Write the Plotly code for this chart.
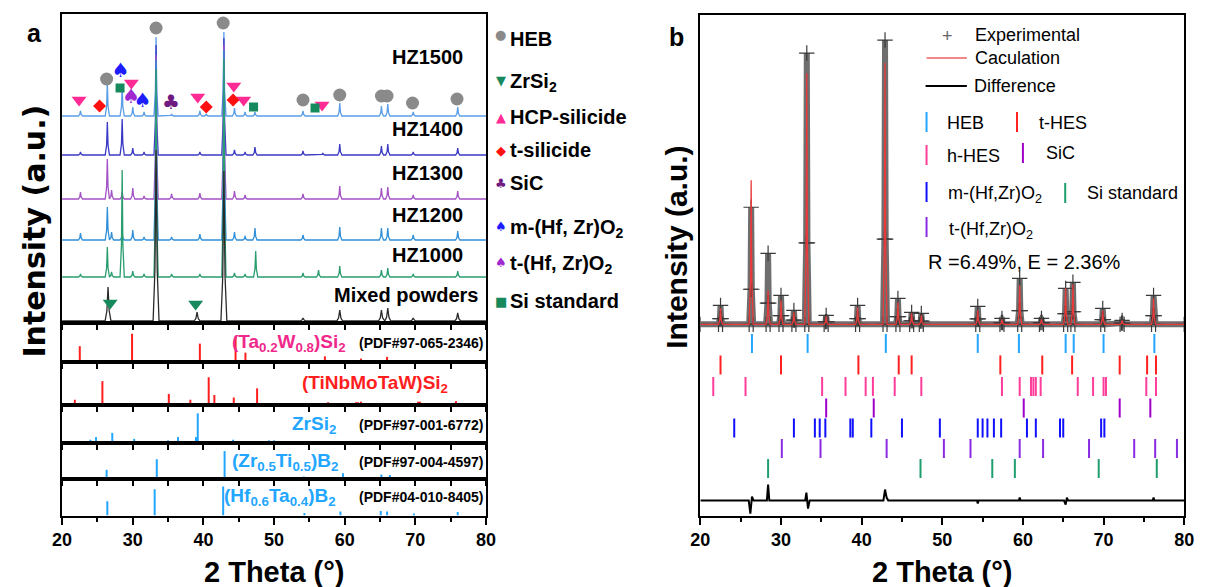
import plotly.graph_objects as go

# ---------------- data ----------------
W, H = 1206, 587
FONT = "Liberation Sans, Arial, sans-serif"
x_ticks = [20, 30, 40, 50, 60, 70, 80]

# Panel a: measured patterns — peak centre (2θ) and peak height above the pattern's own baseline
hz1500_pos = [22.6, 26.4, 28.5, 30.0, 31.6, 33.3, 35.5, 39.5, 40.4, 42.9, 44.4, 45.9, 47.3, 54.1, 59.3, 65.2, 66.1, 69.7, 76.0]
hz1500_h   = [5, 33, 31, 9, 4, 79, 2, 5, 2, 84, 8, 4, 4, 5, 13, 10, 12, 4, 9]
hz1400_pos = [22.6, 26.4, 28.5, 30.0, 31.6, 33.3, 39.5, 42.9, 44.4, 45.9, 47.3, 54.1, 56.9, 59.3, 65.2, 66.1, 69.7, 76.0]
hz1400_h   = [3, 33, 36, 7, 3, 110, 3, 117, 5, 3, 8, 4, 2, 11, 9, 11, 3, 7]
hz1300_pos = [22.6, 26.4, 27.0, 28.5, 30.0, 31.6, 33.3, 35.5, 39.5, 42.9, 44.4, 45.9, 54.1, 59.3, 65.2, 66.1, 69.7, 76.0]
hz1300_h   = [7, 40, 9, 7, 11, 3, 144, 5, 6, 154, 8, 4, 5, 13, 11, 12, 4, 8]
hz1200_pos = [22.6, 26.4, 27.0, 28.5, 30.0, 31.6, 33.3, 35.5, 39.5, 42.9, 44.4, 45.9, 47.3, 54.1, 59.3, 65.2, 66.1, 69.7, 76.0]
hz1200_h   = [7, 33, 8, 7, 10, 3, 180, 3, 6, 190, 8, 4, 12, 5, 13, 12, 12, 5, 9]
hz1000_pos = [22.6, 26.4, 27.0, 28.5, 30.0, 31.6, 33.3, 35.5, 39.5, 42.9, 44.4, 45.9, 47.4, 54.1, 56.3, 59.3, 65.2, 66.1, 69.7, 76.0]
hz1000_h   = [3, 30, 5, 107, 6, 3, 208, 3, 3, 218, 4, 3, 26, 4, 7, 11, 7, 9, 3, 6]
mixed_pos  = [26.5, 33.3, 39.1, 42.9, 54.1, 59.3, 65.2, 66.1, 69.7, 76.0]
mixed_h    = [34, 171, 9, 150, 3, 11, 11, 13, 3, 8]

sample_names   = ["HZ1500", "HZ1400", "HZ1300", "HZ1200", "HZ1000", "Mixed powders"]
sample_offsets = [207, 168, 124, 83, 46, 2]

# phase markers above the patterns (2θ, intensity position)
heb_mark_x   = [26.3, 33.3, 42.8, 54.1, 59.3, 65.2, 66.0, 69.6, 75.9]
heb_mark_y   = [244, 295, 300, 223, 228, 227, 227, 220, 224]
hcp_mark_x   = [22.4, 29.8, 39.2, 44.3, 45.7, 56.8]
hcp_mark_y   = [223, 240, 226, 237, 223, 218]
tsil_mark_x  = [25.3, 40.4, 44.2]
tsil_mark_y  = [217, 216, 223]
msp_mark_x   = [28.3, 31.4]
msp_mark_y   = [251, 221]
tsp_mark_x   = [29.8]
tsp_mark_y   = [225]
sic_mark_x   = [35.4]
sic_mark_y   = [219]
si_mark_x    = [28.2, 47.1, 55.8]
si_mark_y    = [235, 216, 215]
zrsi_mark_x  = [26.8, 38.9]
zrsi_mark_y  = [20, 19]

# reference patterns (2θ, relative intensity)
tawsi2_pos = [22.5, 29.9, 39.5, 44.55, 45.95, 57.2, 62.3, 66.0]
tawsi2_int = [56, 100, 65, 91, 33, 20, 12, 18]
hes_pos = [21.8, 25.7, 35.1, 38.15, 40.75, 41.55, 44.3, 47.6, 57.65, 59.95, 61.6, 61.9, 62.3, 67.9, 69.0, 70.4, 70.65, 75.75, 76.7]
hes_int = [19, 86, 40, 19, 100, 36, 27, 60, 10, 6, 10, 10, 12, 6, 6, 12, 12, 14, 5]
zrsi2_pos = [24.0, 24.8, 27.1, 30.2, 35.0, 36.4, 38.95, 39.2, 44.2, 49.3, 50.0, 55.8, 56.7, 61.8, 63.0, 65.1, 67.9, 69.7, 72.5, 79.7]
zrsi2_int = [11, 20, 34, 14, 9, 20, 20, 100, 11, 9, 9, 6, 6, 5, 5, 5, 5, 5, 5, 5]
zrtib2_pos = [26.3, 33.4, 43.0, 54.2, 59.75, 65.2, 66.4]
zrtib2_int = [33, 71, 100, 9, 21, 16, 14]
hftab2_pos = [26.4, 33.1, 42.8, 54.3, 59.4, 65.1, 66.0, 69.8, 76.0]
hftab2_int = [49, 91, 100, 9, 14, 16, 14, 7, 12]

# Panel b: Rietveld refinement
rb_base = 191
rb_pos  = [22.5, 26.3, 28.4, 30.0, 31.6, 33.2, 35.6, 39.5, 42.9, 44.5, 46.2, 47.4, 54.4, 57.4, 59.6, 62.3, 65.3, 66.2, 69.9, 72.3, 76.2]
exp_h   = [19, 117, 71, 29, 14, 271, 9, 19, 284, 26, 12, 11, 18, 6, 46, 6, 36, 42, 16, 4, 29]
calc_h  = [16, 144, 34, 24, 12, 251, 8, 17, 261, 22, 11, 9, 14, 5, 39, 5, 36, 40, 14, 4, 26]
diff_x  = [20, 26.0, 26.2, 26.4, 26.6, 28.25, 28.4, 28.55, 33.0, 33.15, 33.35, 33.55, 42.7, 42.9, 43.1, 43.3,
           54.3, 54.4, 54.5, 59.5, 59.6, 59.7, 65.1, 65.3, 65.45, 65.6, 76.1, 76.2, 76.3, 80]
diff_y  = [15, 15, 2, 19, 15, 15, 31, 15, 15, 23, 7, 15, 15, 26, 18, 15,
           15, 12, 15, 15, 18, 15, 15, 11, 18, 15, 15, 18, 15, 15]

heb_ticks  = [26.4, 33.3, 43.0, 54.4, 59.5, 65.3, 66.3, 70.0, 76.3]
thes_ticks = [22.5, 30.0, 39.6, 44.6, 46.2, 57.2, 62.4, 66.1, 72.0, 75.4, 76.5]
hhes_ticks = [21.6, 25.6, 35.1, 38.0, 40.5, 41.4, 44.1, 47.4, 57.4, 59.6, 61.0, 61.3, 61.6, 62.2, 66.8, 68.7, 70.0, 70.3, 75.3, 76.5]
sic_ticks  = [35.6, 41.5, 60.1, 72.0, 75.8]
mo_ticks   = [24.2, 31.6, 34.2, 34.8, 35.5, 38.6, 38.9, 41.2, 45.0, 49.7, 54.4, 55.0, 55.6, 56.4, 57.3, 60.5, 61.6, 64.6, 65.0, 69.7, 70.1]
to_ticks   = [30.1, 34.9, 43.1, 50.2, 53.5, 59.6, 62.5, 68.2, 73.8, 76.4, 79.1]
si_ticks   = [28.4, 47.3, 56.2, 59.0, 69.4, 76.6]

# ---------------- helpers ----------------
def profile(pos, hts, base, half, sh):
    xs, ys = [20], [base]
    for p, h in sorted(zip(pos, hts)):
        xs += [p - half, p - sh, p, p + sh, p + half]
        ys += [base, base + 0.3 * h, base + h, base + 0.3 * h, base]
    xs.append(80); ys.append(base)
    return xs, ys

def sticks(pos, ints, y0=0, y1=None):
    xs, ys = [], []
    for p, v in zip(pos, ints):
        xs += [p, p, None]
        ys += [y0, y0 + v if y1 is None else y1, None]
    return xs, ys

fig = go.Figure()

def px(x): return x / W
def py(y): return 1 - y / H

def note(text, x, y, size, color="black", bold=False, xanchor="left", yanchor="middle", angle=0, family=FONT):
    fig.add_annotation(text=text, x=px(x), y=py(y), xref="paper", yref="paper", showarrow=False,
                       xanchor=xanchor, yanchor=yanchor, textangle=angle,
                       font=dict(size=size, color=color, family=family, weight="bold" if bold else "normal"))

def hline(x0, x1, y, color, width):
    fig.add_shape(type="line", xref="paper", yref="paper", x0=px(x0), x1=px(x1), y0=py(y), y1=py(y),
                  line=dict(color=color, width=width))

def vline(x, y0, y1, color, width):
    fig.add_shape(type="line", xref="paper", yref="paper", x0=px(x), x1=px(x), y0=py(y0), y1=py(y1),
                  line=dict(color=color, width=width))

# ---------------- panel a traces ----------------
sample_data = [(hz1500_pos, hz1500_h), (hz1400_pos, hz1400_h), (hz1300_pos, hz1300_h),
               (hz1200_pos, hz1200_h), (hz1000_pos, hz1000_h), (mixed_pos, mixed_h)]
sample_colors = ["#5a9ee8", "#3a3ac4", "#a252c4", "#2f8fd8", "#2a9d6e", "#2b2b2b"]
for i, (pos, hts) in enumerate(sample_data):
    half, sh = (0.42, 0.16) if i == 5 else (0.3, 0.1)
    xs, ys = profile(pos, hts, sample_offsets[i], half, sh)
    fig.add_trace(go.Scatter(x=xs, y=ys, mode="lines", line=dict(color=sample_colors[i], width=1.3),
                             xaxis="x", yaxis="y", hoverinfo="skip", showlegend=False))

def mk(xv, yv, symbol, color, size):
    fig.add_trace(go.Scatter(x=xv, y=yv, mode="markers", xaxis="x", yaxis="y", hoverinfo="skip", showlegend=False,
                             marker=dict(symbol=symbol, color=color, size=size, line=dict(width=0))))

def tk(xv, yv, ch, color, size):
    fig.add_trace(go.Scatter(x=xv, y=yv, mode="text", text=[ch] * len(xv), xaxis="x", yaxis="y",
                             textposition="middle center", hoverinfo="skip", showlegend=False,
                             textfont=dict(color=color, size=size, family="DejaVu Sans")))

mk(heb_mark_x, heb_mark_y, "circle", "#8a8a8a", 13)
mk(hcp_mark_x, hcp_mark_y, "triangle-down", "#ff2b95", 13)
mk(tsil_mark_x, tsil_mark_y, "diamond", "#ff1010", 10)
mk(si_mark_x, si_mark_y, "square", "#168a5c", 9)
mk(zrsi_mark_x, zrsi_mark_y, "triangle-down", "#168a5c", 13)
tk(msp_mark_x, msp_mark_y, "♠", "#1c1cff", 20)
tk(tsp_mark_x, tsp_mark_y, "♠", "#a02ad0", 20)
tk(sic_mark_x, sic_mark_y, "♣", "#6e1a80", 20)

ref_sets = [(tawsi2_pos, tawsi2_int, "#ff1e1e", 138), (hes_pos, hes_int, "#ff1e1e", 155),
            (zrsi2_pos, zrsi2_int, "#22a6ff", 128), (zrtib2_pos, zrtib2_int, "#22a6ff", 129),
            (hftab2_pos, hftab2_int, "#22a6ff", 126)]
for k, (pos, ints, col, top) in enumerate(ref_sets):
    xs, ys = sticks(pos, ints)
    fig.add_trace(go.Scatter(x=xs, y=ys, mode="lines", line=dict(color=col, width=2),
                             xaxis=f"x{k+2}", yaxis=f"y{k+2}", hoverinfo="skip", showlegend=False))

# ---------------- panel b traces ----------------
ex, ey = profile(rb_pos, exp_h, rb_base, 0.25, 0.08)
cx, cy = profile(rb_pos, calc_h, rb_base, 0.25, 0.08)
fig.add_trace(go.Scatter(x=ex, y=ey, mode="lines+markers", xaxis="x7", yaxis="y7", hoverinfo="skip", showlegend=False,
                         line=dict(color="rgba(85,85,85,0.85)", width=6),
                         marker=dict(symbol="cross-thin", size=11, line=dict(color="#3a3a3a", width=1.2))))
fig.add_trace(go.Scatter(x=cx, y=cy, mode="lines", xaxis="x7", yaxis="y7", hoverinfo="skip", showlegend=False,
                         line=dict(color="#e83a3a", width=1.3)))
fig.add_trace(go.Scatter(x=diff_x, y=diff_y, mode="lines", xaxis="x7", yaxis="y7", hoverinfo="skip", showlegend=False,
                         line=dict(color="black", width=2)))

tick_rows = [(heb_ticks, "#22a6ff", 172), (thes_ticks, "#ff2020", 150.5), (hhes_ticks, "#ff3d9a", 129),
             (sic_ticks, "#a000c8", 107.5), (mo_ticks, "#1010ff", 87.5), (to_ticks, "#8a2be2", 67),
             (si_ticks, "#1f9e6e", 47)]
for tv, col, yc in tick_rows:
    xs, ys = sticks(tv, [0] * len(tv), yc - 9.5, yc + 9.5)
    fig.add_trace(go.Scatter(x=xs, y=ys, mode="lines", line=dict(color=col, width=2),
                             xaxis="x7", yaxis="y7", hoverinfo="skip", showlegend=False))

# ---------------- axes ----------------
L0, L1 = 53, 484
R0, R1 = 702, 1194
rows = [(14, 323), (323, 362), (362, 405), (405, 443), (443, 479), (479, 515.6)]
yranges = [[0, 309], [0, 138], [0, 155], [0, 128], [0, 129], [0, 126]]
layout = {}
for i, (t, b) in enumerate(rows):
    sx = "" if i == 0 else str(i + 1)
    last = (i == 5)
    xa = dict(domain=[px(L0), px(L1)], anchor=f"y{sx}", range=[20, 80], showline=True, mirror=True,
              linecolor="black", linewidth=2, showgrid=False, zeroline=False, ticks="outside")
    if last:
        xa.update(tickvals=x_ticks, ticklen=7, tickwidth=2, tickcolor="black",
                  tickfont=dict(size=18, family=FONT, color="black", weight="bold"),
                  minor=dict(tickvals=[25, 35, 45, 55, 65, 75], ticklen=4, tickwidth=2, ticks="outside", tickcolor="black"))
    else:
        xa.update(tickvals=list(range(20, 85, 5)), ticklen=5, tickwidth=1.5, tickcolor="black", showticklabels=False)
    layout[f"xaxis{sx}"] = xa
    layout[f"yaxis{sx}"] = dict(domain=[py(b), py(t)], anchor=f"x{sx}", range=yranges[i], showline=True, mirror=True,
                                linecolor="black", linewidth=2, showgrid=False, zeroline=False, ticks="",
                                showticklabels=False)
layout["xaxis7"] = dict(domain=[px(R0), px(R1)], anchor="y7", range=[20, 80], showline=True, mirror=True,
                        linecolor="black", linewidth=2, showgrid=False, zeroline=False, ticks="outside",
                        tickvals=x_ticks, ticklen=7, tickwidth=2, tickcolor="black",
                        tickfont=dict(size=18, family=FONT, color="black", weight="bold"),
                        minor=dict(tickvals=[25, 35, 45, 55, 65, 75], ticklen=4, tickwidth=2, ticks="outside", tickcolor="black"))
layout["yaxis7"] = dict(domain=[py(515.6), py(15)], anchor="x7", range=[0, 500], showline=True, mirror=True,
                        linecolor="black", linewidth=2, showgrid=False, zeroline=False, ticks="", showticklabels=False)
fig.update_layout(**layout)

# ---------------- text ----------------
note("a", 25, 33, 25, bold=True, xanchor="center")
note("b", 678, 37, 25, bold=True, xanchor="center")
note("Intensity (a.u.)", 25, 231, 30, bold=True, xanchor="center", angle=-90, family="DejaVu Sans")
note("Intensity (a.u.)", 677, 247, 30, bold=True, xanchor="center", angle=-90)
note("2 Theta (°)", 268.5, 572, 29, bold=True, xanchor="center")
note("2 Theta (°)", 948, 572, 29, bold=True, xanchor="center")

label_y = [57, 129, 173, 215, 255, 295]
for name, yy in zip(sample_names, label_y):
    note(name, 478 if name.startswith("Mixed") else 463, yy, 20, bold=True, xanchor="right")

note("(Ta<sub>0.2</sub>W<sub>0.8</sub>)Si<sub>2</sub>", 344, 343, 19, color="#f0288c", bold=True, xanchor="right")
note("(PDF#97-065-2346)", 484, 343, 14, bold=True, xanchor="right")
note("(TiNbMoTaW)Si<sub>2</sub>", 447, 384, 19, color="#ff1e1e", bold=True, xanchor="right")
note("ZrSi<sub>2</sub>", 334, 425, 19, color="#22a6ff", bold=True, xanchor="right")
note("(PDF#97-001-6772)", 484, 425, 14, bold=True, xanchor="right")
note("(Zr<sub>0.5</sub>Ti<sub>0.5</sub>)B<sub>2</sub>", 336, 462, 19, color="#22a6ff", bold=True, xanchor="right")
note("(PDF#97-004-4597)", 484, 462, 14, bold=True, xanchor="right")
note("(Hf<sub>0.6</sub>Ta<sub>0.4</sub>)B<sub>2</sub>", 334, 497, 19, color="#22a6ff", bold=True, xanchor="right")
note("(PDF#04-010-8405)", 484, 497, 14, bold=True, xanchor="right")

# legend of panel a
leg_a = [("●", "#8a8a8a", "HEB", 34, 39), ("▼", "#168a5c", "ZrSi<sub>2</sub>", 80, 82), ("▲", "#ff2b95", "HCP-silicide", 117, 117),
         ("◆", "#ff1010", "t-silicide", 150, 150), ("♣", "#6e1a80", "SiC", 183, 183),
         ("♠", "#1c1cff", "m-(Hf, Zr)O<sub>2</sub>", 226, 228), ("♠", "#a02ad0", "t-(Hf, Zr)O<sub>2</sub>", 262, 264),
         ("■", "#168a5c", "Si standard", 301, 301)]
for sym, col, txt, ys, yt in leg_a:
    note(sym, 499, ys, 13, color=col, xanchor="center", family="DejaVu Sans")
    note(txt, 506, yt, 20, bold=True)

# legend of panel b
note("+", 953, 36, 18, color="#666666", xanchor="center")
note("Experimental", 979, 35, 18)
hline(932, 973, 58, "#f06060", 1.3)
note("Caculation", 979, 58, 18)
hline(931, 973, 86, "black", 2)
note("Difference", 978, 86, 18)
leg_b = [("#22a6ff", 932, 112, 132, "HEB", 951, 123), ("#ff2020", 1024, 112, 132, "t-HES", 1044, 123),
         ("#ff3d9a", 932, 145, 165, "h-HES", 951, 156), ("#a000c8", 1030, 143, 163, "SiC", 1051, 153),
         ("#1010ff", 932, 182, 202, "m-(Hf,Zr)O<sub>2</sub>", 952, 194), ("#1f9e6e", 1073, 183, 203, "Si standard", 1093, 193),
         ("#8a2be2", 932, 217, 237, "t-(Hf,Zr)O<sub>2</sub>", 953, 230)]
for col, xb, y0, y1, txt, xt, yt in leg_b:
    vline(xb, y0, y1, col, 2)
    note(txt, xt, yt, 18)
note("R =6.49%, E = 2.36%", 931, 262, 20)

fig.update_layout(width=W, height=H, margin=dict(l=0, r=0, t=0, b=0), plot_bgcolor="white",
                  paper_bgcolor="white", showlegend=False, font=dict(family=FONT))
fig.write_html("out.html", config={"displayModeBar": False},
               post_script="document.body.style.margin='0';document.body.style.overflow='hidden';")
